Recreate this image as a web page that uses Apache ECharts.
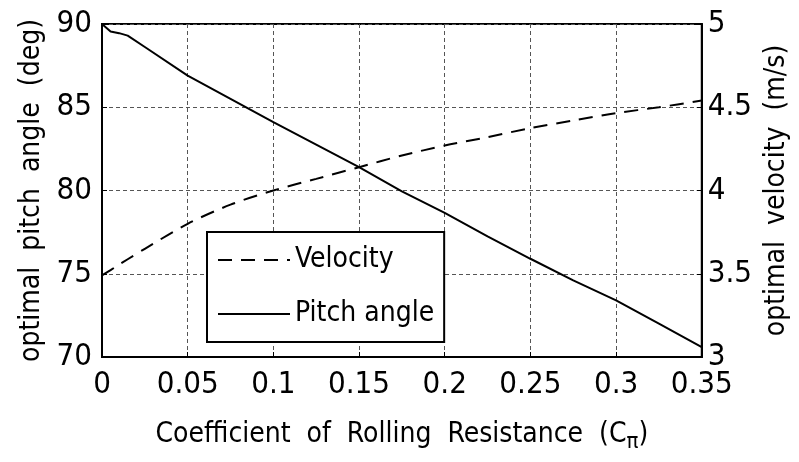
<!DOCTYPE html>
<html><head><meta charset="utf-8">
<script src="https://cdn.jsdelivr.net/npm/echarts@6/dist/echarts.min.js"></script>
<style>html,body{margin:0;padding:0;background:#fff}#c{width:799px;height:462px}</style>
</head><body><div id="c"></div>
<script>
const xs = [0, 0.005, 0.01, 0.015, 0.025, 0.05, 0.075, 0.1, 0.125, 0.15, 0.175, 0.2, 0.225, 0.25, 0.275, 0.3, 0.325, 0.35];
const pitch = [90, 89.55, 89.45, 89.3, 88.62, 86.9, 85.5, 84.1, 82.75, 81.4, 79.95, 78.65, 77.25, 75.9, 74.6, 73.4, 72.0, 70.6];
const velocity = [3.49, 3.522, 3.555, 3.587, 3.65, 3.8, 3.915, 4.0, 4.07, 4.14, 4.21, 4.27, 4.32, 4.375, 4.42, 4.465, 4.5, 4.54];
const xTicks = [0, 0.05, 0.1, 0.15, 0.2, 0.25, 0.3, 0.35];

const FONT = "'Liberation Sans Narrow','DejaVu Sans Condensed','Liberation Sans',sans-serif";
const chart = echarts.init(document.getElementById('c'), null, {renderer: 'canvas'});
const gridLine = {show: true, lineStyle: {color: '#555', width: 1, type: [4, 3]}};
chart.setOption({
  animation: false,
  backgroundColor: '#fff',
  grid: {left: 102, right: 94, top: 24, bottom: 105, show: true, borderColor: '#000', borderWidth: 2, backgroundColor: 'transparent'},
  legend: {
    orient: 'vertical', left: 207, top: 232,
    backgroundColor: '#fff', borderColor: '#000', borderWidth: 2, borderRadius: 0,
    padding: [12, 10, 12, 10], itemGap: 22, itemWidth: 72, itemHeight: 14,
    itemStyle: {color: 'transparent', borderWidth: 0, opacity: 0},
    textStyle: {fontFamily: FONT, fontSize: 28, color: '#000', lineHeight: 32},
    data: ['Velocity', 'Pitch angle']
  },
  xAxis: {
    type: 'value', min: 0, max: 0.35, interval: 0.05,
    axisLine: {show: true, lineStyle: {color: '#000', width: 2}},
    axisTick: {show: true, inside: true, length: 5, lineStyle: {color: '#000'}},
    axisLabel: {fontFamily: FONT, fontSize: 31, color: '#000', margin: 12,
      formatter: v => { const t = xTicks.find(a => Math.abs(a - v) < 1e-9); return t === undefined ? '' : String(t); }},
    splitLine: gridLine,
    name: '{a|Coefficient  of  Rolling  Resistance  (C}{s|π}{a|)}',
    nameLocation: 'middle', nameGap: 60,
    nameTextStyle: {rich: {
      a: {fontFamily: FONT, fontSize: 28, color: '#000'},
      s: {fontFamily: FONT, fontSize: 22, color: '#000', padding: [14, 0, 0, 0]}
    }}
  },
  yAxis: [{
    type: 'value', min: 70, max: 90, interval: 5,
    axisLine: {show: true, lineStyle: {color: '#000', width: 2}},
    axisTick: {show: true, inside: true, length: 5, lineStyle: {color: '#000'}},
    axisLabel: {fontFamily: FONT, fontSize: 31, color: '#000', margin: 10},
    splitLine: gridLine,
    name: 'optimal  pitch  angle  (deg)', nameLocation: 'middle', nameGap: 54,
    nameTextStyle: {fontFamily: FONT, fontSize: 28, color: '#000'}
  }, {
    type: 'value', min: 3, max: 5, interval: 0.5, position: 'right',
    axisLine: {show: true, lineStyle: {color: '#000', width: 2}},
    axisTick: {show: true, inside: true, length: 5, lineStyle: {color: '#000'}},
    axisLabel: {fontFamily: FONT, fontSize: 31, color: '#000', margin: 6},
    splitLine: {show: false},
    name: 'optimal  velocity  (m/s)', nameLocation: 'middle', nameGap: 60,
    nameTextStyle: {fontFamily: FONT, fontSize: 28, color: '#000'}
  }],
  series: [{
    name: 'Velocity', type: 'line', yAxisIndex: 1, symbol: 'none', smooth: 0.3,
    lineStyle: {color: '#000', width: 2, type: [14, 9]}, itemStyle: {color: '#000'},
    data: xs.map((x, i) => [x, velocity[i]])
  }, {
    name: 'Pitch angle', type: 'line', yAxisIndex: 0, symbol: 'none',
    lineStyle: {color: '#000', width: 2, type: 'solid'}, itemStyle: {color: '#000'},
    data: xs.map((x, i) => [x, pitch[i]])
  }]
});
</script></body></html>
